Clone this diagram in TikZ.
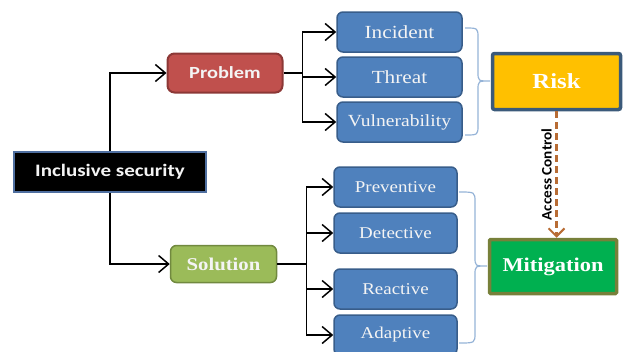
\documentclass[tikz,border=0pt]{standalone}
\usepackage{fontspec}
\setmainfont{Liberation Serif}
\newfontfamily\calb[FakeStretch=1.2]{Carlito}
\newfontfamily\calbn[FakeStretch=1.05]{Carlito}
\newfontfamily\timesw[FakeStretch=1.15]{Liberation Serif}
\usetikzlibrary{arrows.meta}
\definecolor{boxblue}{HTML}{4F81BD}
\definecolor{boxblueedge}{HTML}{385D8A}
\definecolor{probred}{HTML}{C0504D}
\definecolor{probedge}{HTML}{8C3836}
\definecolor{solgreen}{HTML}{9BBB59}
\definecolor{soledge}{HTML}{71893F}
\definecolor{riskyellow}{HTML}{FFC000}
\definecolor{riskedge}{HTML}{3B5A7A}
\definecolor{mitgreen}{HTML}{00B050}
\definecolor{mitedge}{HTML}{77803A}
\definecolor{bracecol}{HTML}{95B3D7}
\definecolor{accbrown}{HTML}{B86C34}
\definecolor{incledge}{HTML}{4F6FA0}
\definecolor{offwhite}{HTML}{F4F4F4}
\tikzset{
  bluebox/.style={rounded corners=6pt, fill=boxblue, draw=boxblueedge, line width=1.5pt,
    text=offwhite, minimum width=123pt, minimum height=40pt, inner sep=0pt},
  arr/.style={line width=1.5pt, -{Straight Barb[length=10pt,width=17pt,line width=1.5pt]}},
  trunk/.style={line width=1.5pt},
  bracestyle/.style={draw=bracecol, line width=1.2pt},
}
\begin{document}
\begin{tikzpicture}[x=1pt,y=-1pt]
\useasboundingbox (0,0) rectangle (628,351);
% main nodes
\node[fill=black, draw=incledge, line width=1.5pt, minimum width=192pt, minimum height=40pt,
  inner sep=0pt, text=offwhite, font=\calb\bfseries\fontsize{17.5}{19}\selectfont]
  (incl) at (110,172) {Inclusive security};
\node[rounded corners=7pt, fill=probred, draw=probedge, line width=2pt, minimum width=115pt,
  minimum height=39pt, inner sep=0pt, text=offwhite, font=\calb\bfseries\fontsize{17}{19}\selectfont]
  (problem) at (225,73) {Problem};
\node[rounded corners=6pt, fill=solgreen, draw=soledge, line width=1.5pt, minimum width=106pt,
  minimum height=37pt, inner sep=0pt, text=offwhite, font=\timesw\bfseries\fontsize{18}{20}\selectfont]
  (solution) at (223.5,264) {Solution};
% problem side
\node[bluebox, minimum width=125pt, font=\timesw\fontsize{18.5}{20}\selectfont] (incident) at (399.5,32) {Incident};
\node[bluebox, minimum width=125pt, font=\timesw\fontsize{18.5}{20}\selectfont] (threat) at (399.5,77) {Threat};
\node[bluebox, minimum width=125pt, font=\timesw\fontsize{17}{20}\selectfont] (vuln) at (399.5,122) {Vulnerability};
% solution side
\node[bluebox, font=\timesw\fontsize{16.5}{18}\selectfont] (prev) at (395.5,187) {Preventive};
\node[bluebox, font=\timesw\fontsize{16.5}{18}\selectfont] (det) at (395.5,233) {Detective};
\node[bluebox, font=\timesw\fontsize{16.5}{18}\selectfont] (react) at (395.5,289) {Reactive};
\node[bluebox, font=\timesw\fontsize{16.5}{18}\selectfont] (adapt) at (395.5,335) {Adaptive};
% risk and mitigation
\node[rounded corners=2pt, fill=riskyellow, draw=riskedge, line width=3.5pt, minimum width=128pt,
  minimum height=56pt, inner sep=0pt, text=white, font=\timesw\bfseries\fontsize{21.5}{24}\selectfont]
  (risk) at (556.5,81.5) {Risk};
\node[rounded corners=1pt, fill=mitgreen, draw=mitedge, line width=3.5pt, minimum width=127pt,
  minimum height=54pt, inner sep=0pt, text=white, font=\timesw\bfseries\fontsize{19.5}{22}\selectfont]
  (mitig) at (553,266.5) {Mitigation};
% connectors from inclusive security
\draw[arr] (incl.north) |- (problem.west);
\draw[arr] (incl.south) |- (solution.west);
% problem branches
\draw[trunk] (problem.east) -- ++(19,0) coordinate (pj);
\draw[arr] (pj) |- (incident.west);
\draw[arr] (pj) |- (threat.west);
\draw[arr] (pj) |- (vuln.west);
% solution branches
\draw[trunk] (solution.east) -- ++(29,0) coordinate (sj);
\draw[arr] (sj) |- (prev.west);
\draw[arr] (sj) |- (det.west);
\draw[arr] (sj) |- (react.west);
\draw[arr] (sj) |- (adapt.west);
% braces
\draw[bracestyle] (465,28) .. controls (478,28) .. (478,38) -- (478,72)
  .. controls (478,81) .. (490,81) .. controls (478,81) .. (478,90) -- (478,125)
  .. controls (478,135) .. (465,135);
\draw[bracestyle] (459,192) .. controls (475,192) .. (475,202) -- (475,257)
  .. controls (475,266) .. (487,266) .. controls (475,266) .. (475,275) -- (475,333)
  .. controls (475,343) .. (459,343);
% access control
\draw[accbrown, line width=2.5pt, dash pattern=on 7pt off 4pt,
  -{Straight Barb[length=8pt,width=16pt,line width=2pt]}]
  (risk.south) -- (risk.south |- mitig.north)
  node[midway, left=2pt, rotate=90, anchor=south, inner sep=1.5pt, text=black,
    font=\calbn\bfseries\fontsize{14.5}{16}\selectfont] (acc) {Access Control};
\end{tikzpicture}
\end{document}
